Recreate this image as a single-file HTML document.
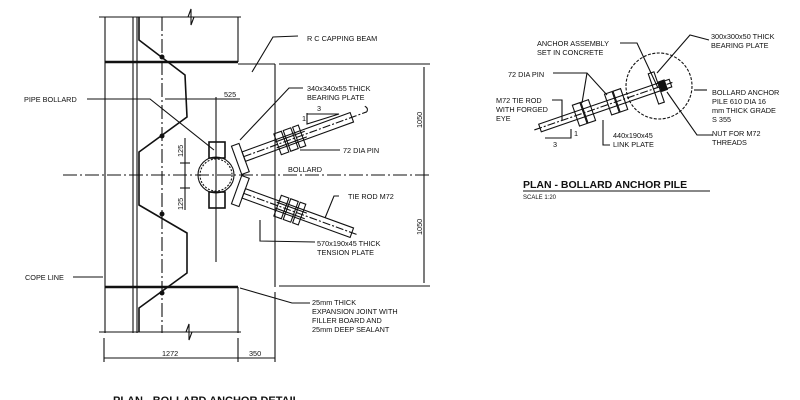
<!DOCTYPE html>
<html><head><style>
html,body{margin:0;padding:0;background:#fff;}
svg{display:block;}
text{font-family:"Liberation Sans",sans-serif;font-size:7.3px;fill:#111;}
.t{font-weight:bold;font-size:11px;}
</style></head><body>
<svg width="800" height="400" viewBox="0 0 800 400" xmlns="http://www.w3.org/2000/svg">
<g stroke="#111" fill="none" stroke-width="1.1">
<line x1="105" y1="17" x2="105" y2="333"/>
<line x1="133" y1="17" x2="133" y2="333"/>
<line x1="137" y1="17" x2="137" y2="333"/>
<line x1="99" y1="17" x2="241" y2="17"/>
<line x1="238" y1="17" x2="238" y2="62"/>
<polyline points="188,17 191,9 191,25 194,17"/>
<line x1="105" y1="62" x2="238" y2="62" stroke-width="2.5"/>
<line x1="238" y1="64" x2="275" y2="64"/>
<line x1="275" y1="64" x2="275" y2="287"/>
<line x1="279" y1="64" x2="430" y2="64"/>
<line x1="279" y1="286" x2="430" y2="286"/>
<line x1="424" y1="67" x2="424" y2="283"/>
<line x1="105" y1="287" x2="238" y2="287" stroke-width="2.5"/>
<line x1="238" y1="287" x2="238" y2="333"/>
<line x1="99" y1="332" x2="241" y2="332"/>
<polyline points="186,332 189,324 189,340 192,332"/>
<line x1="104" y1="358" x2="275" y2="358"/>
<line x1="104" y1="338" x2="104" y2="362"/>
<line x1="238" y1="338" x2="238" y2="362"/>
<line x1="275" y1="292" x2="275" y2="362"/>
<polyline points="139,17 139,40 185,75 187,117 139,152 139,205 187,233 187,273 139,308 139,332" stroke-width="1.6"/>
<line x1="63" y1="175" x2="432" y2="175" stroke-dasharray="14,3,2,3"/>
<line x1="162" y1="17" x2="162" y2="333" stroke-dasharray="14,3,2,3"/>
<line x1="216" y1="97" x2="216" y2="262"/>
<line x1="165" y1="99" x2="240" y2="99"/>
<line x1="185" y1="138" x2="185" y2="210"/>
<line x1="180" y1="163" x2="190" y2="163"/>
<line x1="180" y1="188" x2="190" y2="188"/>
<circle cx="216" cy="175" r="18"/>
<circle cx="216" cy="175" r="16" stroke-dasharray="2,1.5"/>
<rect x="209" y="142" width="16" height="16" stroke-width="1.6"/>
<rect x="209" y="192" width="16" height="16" stroke-width="1.6"/>
<g transform="translate(240,158) rotate(-20)">
<rect x="-4" y="-14" width="8" height="30"/>
<rect x="4" y="-5" width="115" height="10"/>
<line x1="4" y1="0" x2="135" y2="0" stroke-dasharray="8,2,2,2"/>
<rect x="40" y="-11" width="8" height="22"/><rect x="50" y="-11" width="8" height="22"/><rect x="60" y="-11" width="6" height="22"/>
<line x1="38" y1="-3" x2="70" y2="-3"/><line x1="38" y1="3" x2="70" y2="3"/>
<path d="M135,0 q3,-3 0,-6"/>
</g>
<g transform="translate(240,192) rotate(20)">
<rect x="-4" y="-16" width="8" height="30"/>
<rect x="4" y="-5" width="115" height="10"/>
<line x1="4" y1="0" x2="125" y2="0" stroke-dasharray="8,2,2,2"/>
<rect x="40" y="-11" width="8" height="22"/><rect x="50" y="-11" width="8" height="22"/><rect x="60" y="-11" width="6" height="22"/>
<line x1="38" y1="-3" x2="70" y2="-3"/><line x1="38" y1="3" x2="70" y2="3"/>
</g>
<polyline points="307,113 307,124 339,114 307,114"/>
<polyline points="87,99 150,99 214,150"/>
<line x1="73" y1="277" x2="103" y2="277"/>
<polyline points="298,36 273,37 252,72"/>
<polyline points="303,88 289,88 240,140"/>
<line x1="300" y1="150" x2="340" y2="150"/>
<polyline points="339,196 334,196 325,218"/>
<polyline points="315,242 260,241 260,220"/>
<polyline points="240,288 292,303 310,303"/>

<circle cx="659" cy="86" r="33" stroke-dasharray="3,1.5"/>
<g transform="translate(540,128) rotate(-19)">
<rect x="0" y="-4" width="138" height="8"/>
<line x1="-6" y1="0" x2="140" y2="0" stroke-dasharray="8,2,2,2"/>
<rect x="38" y="-11" width="8" height="22"/><rect x="47" y="-11" width="8" height="22"/>
<rect x="72" y="-11" width="8" height="22"/><rect x="81" y="-11" width="8" height="22"/>
<rect x="120" y="-16" width="6" height="32"/>
<rect x="127" y="-5" width="6" height="10" fill="#111"/>
</g>
<polyline points="545,138 571,138 571,129"/>
<polyline points="620,43 637,43 658,88"/>
<polyline points="709,40 690,35 657,73"/>
<polyline points="553,73 587,73 607,95"/>
<line x1="587" y1="73" x2="582" y2="103"/>
<polyline points="552,100 562,100 562,120"/>
<line x1="694" y1="90" x2="707" y2="90"/>
<polyline points="713,135 697,135 667,92"/>
<polyline points="610,145 603,145 603,120"/>
<line x1="523" y1="191" x2="710" y2="191"/>
</g>
<g fill="#111">
<circle cx="162" cy="57" r="2.5"/><circle cx="162" cy="136" r="2.5"/><circle cx="162" cy="214" r="2.5"/><circle cx="162" cy="293" r="2.5"/>
</g>
<text x="24" y="102">PIPE BOLLARD</text>
<text x="25" y="280">COPE LINE</text>
<text x="307" y="41">R C CAPPING BEAM</text>
<text x="307" y="91">340x340x55 THICK</text>
<text x="307" y="100">BEARING PLATE</text>
<text x="224" y="97">525</text>
<text x="317" y="111">3</text>
<text x="302" y="121">1</text>
<text x="343" y="153">72 DIA PIN</text>
<text x="288" y="172">BOLLARD</text>
<text x="348" y="199">TIE ROD M72</text>
<text x="317" y="246">570x190x45 THICK</text>
<text x="317" y="255">TENSION PLATE</text>
<text x="312" y="305">25mm THICK</text>
<text x="312" y="314">EXPANSION JOINT WITH</text>
<text x="312" y="323">FILLER BOARD AND</text>
<text x="312" y="332">25mm DEEP SEALANT</text>
<text x="162" y="356">1272</text>
<text x="249" y="356">350</text>
<text transform="translate(183,157) rotate(-90)">125</text>
<text transform="translate(183,210) rotate(-90)">125</text>
<text transform="translate(422,128) rotate(-90)">1050</text>
<text transform="translate(422,235) rotate(-90)">1050</text>
<text class="t" x="113" y="404">PLAN - BOLLARD ANCHOR DETAIL</text>

<text x="537" y="46">ANCHOR ASSEMBLY</text>
<text x="537" y="55">SET IN CONCRETE</text>
<text x="711" y="39">300x300x50 THICK</text>
<text x="711" y="48">BEARING PLATE</text>
<text x="508" y="77">72 DIA PIN</text>
<text x="496" y="103">M72 TIE ROD</text>
<text x="496" y="112">WITH FORGED</text>
<text x="496" y="121">EYE</text>
<text x="712" y="95">BOLLARD ANCHOR</text>
<text x="712" y="104">PILE 610 DIA 16</text>
<text x="712" y="113">mm THICK GRADE</text>
<text x="712" y="122">S 355</text>
<text x="712" y="136">NUT FOR M72</text>
<text x="712" y="145">THREADS</text>
<text x="613" y="138">440x190x45</text>
<text x="613" y="147">LINK PLATE</text>
<text x="553" y="147">3</text>
<text x="574" y="136">1</text>
<text class="t" x="523" y="188" style="font-size:10.5px">PLAN - BOLLARD ANCHOR PILE</text>
<text x="523" y="199" style="font-size:6px">SCALE 1:20</text>
</svg>
</body></html>
